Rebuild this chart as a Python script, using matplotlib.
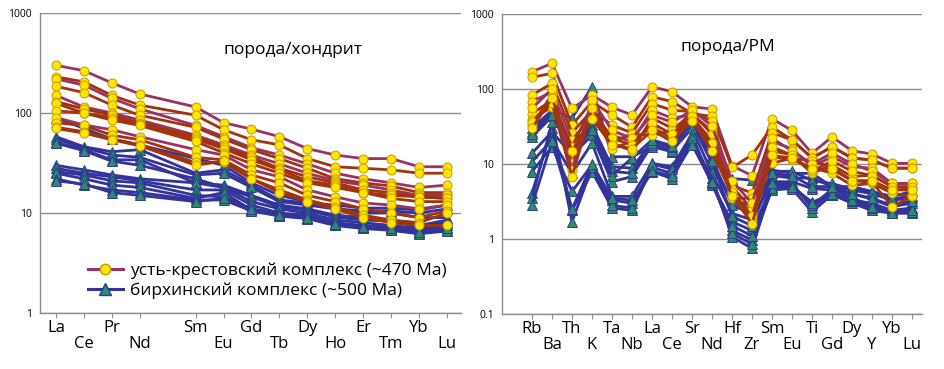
import matplotlib

matplotlib.use("Agg")
import matplotlib.pyplot as plt
import numpy as np

plt.rcParams["font.family"] = ["Open Sans", "DejaVu Sans"]

# --- REE, chondrite normalised (Pm slot left empty) ---
REE = ["La", "Ce", "Pr", "Nd", "Sm", "Eu", "Gd", "Tb", "Dy", "Ho", "Er", "Tm", "Yb", "Lu"]

uk_chondrite = [
    [300, 265, 200, 155, 115, 80, 69, 58, 44, 38, 35, 35, 29, 29],
    [230, 205, 150, 120, 95, 68, 54, 48, 35, 29, 28, 27, 25, 25],
    [220, 190, 140, 110, 75, 58, 45, 38, 31, 25, 22, 20, 18, 19],
    [185, 160, 120, 95, 72, 55, 43, 35, 28, 22, 20, 18.6, 16, 16],
    [150, 115, 100, 85, 60, 48, 38, 31, 25, 21, 19, 17, 15, 15],
    [130, 110, 95, 80, 58, 46, 36, 28, 23, 20, 17, 16, 14.5, 14],
    [125, 100, 90, 78, 55, 44, 34, 27, 21, 19, 16, 15, 14.5, 14],
    [105, 100, 85, 75, 52, 40, 31, 25, 20, 18, 16, 14, 13, 13],
    [90, 76, 68, 58, 43, 38, 27, 23, 17, 14.5, 12.6, 12, 11, 12],
    [80, 75, 60, 54, 36, 34, 24, 20, 15, 13, 11, 10, 9, 10.5],
    [72, 65, 55, 48, 32, 32, 22, 17, 13.5, 11.5, 9.5, 8.5, 8, 10],
    [70, 63, 54, 47, 30, 33, 22, 16, 13, 11, 9, 8, 7.5, 7.5],
]
uk_chondrite_colors = ["p", "b", "p", "b", "p", "b", "b", "b", "p", "b", "b", "b"]

bk_chondrite = [
    [90, 70, 55, 48, 35, 30, 20, 15, 13, 11, 10, 10, 9, 9],
    [58, 46, 41, 43, 25, 27, 19, 13.5, 12.6, 12, 11.2, 11.2, 10.7, 12],
    [55, 45, 38, 36, 24, 25, 18, 13, 12, 11, 10.5, 10.5, 10, 11],
    [51, 43, 34, 34, 20, 19, 15, 12, 11, 9.5, 9, 8.5, 7.5, 8.5],
    [50, 42, 33, 30, 22, 18, 14.5, 11.5, 10.7, 9.1, 8.5, 8.3, 7.2, 8],
    [30, 27, 24, 22, 20, 18, 13, 11, 10, 8.5, 8, 7.5, 7, 8],
    [28, 25, 23, 21, 17, 17, 12, 10, 9.5, 8, 7.5, 7.2, 6.8, 7.5],
    [26, 24, 21, 20, 15, 14.5, 11, 9.8, 9, 7.8, 7.3, 7, 6.5, 7],
    [25, 22, 19, 18, 14, 16, 10.7, 9.5, 8.9, 7.6, 7.1, 6.8, 6.3, 6.8],
    [22, 19, 17, 16, 13.5, 13.5, 10.5, 9.3, 8.8, 7.5, 7, 6.7, 6.2, 6.6],
    [21, 19.5, 16, 15, 13, 14, 11, 9.5, 9, 7.7, 7.2, 7, 6.5, 7],
]

# --- multi-element, primitive mantle normalised ---
PM = ["Rb", "Ba", "Th", "K", "Ta", "Nb", "La", "Ce", "Sr", "Nd",
      "Hf", "Zr", "Sm", "Eu", "Ti", "Gd", "Dy", "Y", "Yb", "Lu"]

uk_pm = [
    [170, 220, 55, 83, 57, 45, 107, 92, 58, 54, 9.5, 7, 40, 28, 13.9, 23, 15, 13.6, 10.2, 10.2],
    [143, 162, 33, 68, 45, 31, 79, 68, 47, 43, 9, 13.2, 31, 21, 12, 17, 12, 11.3, 8.8, 8.8],
    [83, 119, 26, 52, 33, 26, 64, 52, 50, 37, 5.2, 4.1, 26, 21, 12, 17, 12, 11.3, 8.8, 8.8],
    [68, 92, 21, 43, 24, 20, 52, 41, 45, 28, 4.1, 2.2, 20, 16, 9.2, 12.5, 9.2, 8.8, 5.5, 5.5],
    [47, 71, 17, 60, 19, 15, 41, 30, 40, 21, 4.5, 1.8, 15, 13.2, 7.5, 9.7, 6.8, 7.1, 5, 4.7],
    [39, 58, 12.5, 50, 16, 20, 31, 22, 42, 17, 5, 2.5, 12.5, 11.3, 9, 7.5, 5.2, 5.5, 4.1, 3.7],
    [33, 85, 10.2, 45, 20, 25, 24, 28, 48, 25, 3.5, 3.5, 10.2, 12, 11, 9, 6, 5.7, 2.7, 3.7],
    [55, 100, 8.3, 72, 28, 22, 45, 36, 52, 32, 6, 3, 22, 15, 10, 14, 10, 8, 5.5, 5.5],
    [36, 65, 6.8, 55, 22, 18, 35, 25, 44, 19, 4.2, 2, 17, 13, 8, 11, 8, 7, 5, 5],
    [30, 75, 15, 40, 18, 16, 28, 20, 38, 15, 3.8, 1.6, 13, 12, 8.5, 8.5, 6, 6, 4.5, 4.5],
]
uk_pm_colors = ["p", "b", "b", "p", "b", "b", "b", "p", "b", "b"]

bk_pm = [
    [30, 52, 41, 107, 12.5, 12.5, 17, 14.6, 47, 13.2, 6.4, 6.1, 8.3, 7.5, 7.5, 5, 5, 4.3, 3.7, 4.3],
    [23, 43, 19, 33, 9.2, 8.8, 20, 16, 35, 10.2, 3.3, 2.8, 7, 6.5, 6.5, 5, 4.5, 4, 3.3, 3.5],
    [13.9, 27, 13.2, 24, 5.8, 6.8, 18, 15, 30, 7.5, 2.2, 1.8, 5.8, 5.8, 4.7, 4.5, 4, 3.4, 2.7, 3],
    [10.7, 21, 7.5, 19, 3.7, 3.7, 10.2, 9.2, 25, 5.2, 1.7, 1.3, 5, 5, 3.1, 3.9, 3.3, 3, 2.4, 2.6],
    [7.9, 17, 4.3, 9.7, 3.3, 3, 7.9, 6.4, 19, 5.5, 1.3, 0.97, 4.5, 4.7, 2.3, 3.9, 3, 2.4, 2.2, 2.2],
    [4.1, 30, 2.4, 7.9, 2.6, 2.4, 9, 7.5, 20, 6.5, 1.07, 0.75, 5.2, 5.5, 2.6, 4.2, 3.2, 2.6, 2.3, 2.3],
    [3.5, 36, 1.7, 9, 2.8, 2.6, 10, 8.5, 22, 6, 1.2, 0.85, 4.8, 5.2, 2.8, 4.6, 3.5, 2.8, 2.4, 2.5],
    [2.8, 20, 2.5, 10, 3.5, 3.3, 8, 7, 18, 5.8, 1.5, 1.1, 5.5, 5, 3, 4, 3.3, 2.7, 2.2, 2.4],
    [27, 48, 17, 30, 8, 7.5, 19, 17, 42, 12, 2.8, 2.2, 8, 8, 6, 5.5, 4.6, 4.2, 3.4, 3.8],
    [25, 45, 14, 28, 7, 12, 21, 17.5, 38, 11, 2, 1.5, 7.5, 7, 5, 5, 4, 3.5, 2.8, 3.2],
]

LINE_COLORS = {"p": "#993366", "b": "#A3330B"}
BLUE_LINE = "#33339C"
CIRCLE_FACE = "#FFE500"
CIRCLE_EDGE = "#C89A00"
TRI_FACE = "#2E8B6E"
TRI_EDGE = "#2A3F8A"
GRID = "#8C8C8C"


def draw_panel(ax, x, labels, uk_rows, uk_colors, bk_rows, ylim, title, title_xy):
    for row in bk_rows:
        ax.plot(x, row, color=BLUE_LINE, linewidth=2.0, marker="^", markersize=6.8,
                markerfacecolor=TRI_FACE, markeredgecolor=TRI_EDGE, markeredgewidth=0.7, zorder=3)
    for row, c in zip(uk_rows, uk_colors):
        ax.plot(x, row, color=LINE_COLORS[c], linewidth=2.0, marker="o", markersize=6.5,
                markerfacecolor=CIRCLE_FACE, markeredgecolor=CIRCLE_EDGE, markeredgewidth=0.7, zorder=4)

    ax.set_yscale("log")
    ax.set_ylim(*ylim)
    decades = 10.0 ** np.arange(np.log10(ylim[0]), np.log10(ylim[1]) + 1)
    ax.set_yticks(decades)
    ax.set_yticklabels([f"{d:g}" for d in decades], fontsize=7.5)
    ax.minorticks_off()
    ax.yaxis.grid(True, color=GRID, linewidth=1.0, zorder=0)
    ax.set_axisbelow(True)
    ax.tick_params(axis="y", length=0, pad=6)

    ax.set_xticks(x)
    ax.set_xticklabels(labels, fontsize=12)
    ax.tick_params(axis="x", length=3.5, width=0.8, color=GRID, pad=1.5)
    for i, tick in enumerate(ax.xaxis.get_major_ticks()):
        if i % 2 == 1:
            tick.set_pad(13)
    for s in ["top", "right"]:
        ax.spines[s].set_visible(False)
    for s in ["left", "bottom"]:
        ax.spines[s].set_color(GRID)
        ax.spines[s].set_linewidth(1.0)
    ax.text(title_xy[0], title_xy[1], title, transform=ax.transAxes, fontsize=12.5,
            ha="center", va="center")


fig = plt.figure(figsize=(9.44, 3.69), dpi=100)
ax1 = fig.add_axes([40 / 944, 56 / 369, 421 / 944, 300 / 369])
ax2 = fig.add_axes([502 / 944, 55 / 369, 420 / 944, 300 / 369])

x_ree = np.array([i if i < 4 else i + 1 for i in range(len(REE))])
draw_panel(ax1, x_ree, REE, uk_chondrite, uk_chondrite_colors, bk_chondrite,
           (1, 1000), "порода/хондрит", (0.60, 0.877))
ax1.set_xlim(-0.57, 14.5)

x_pm = np.arange(len(PM))
draw_panel(ax2, x_pm, PM, uk_pm, uk_pm_colors, bk_pm,
           (0.1, 1000), "порода/PM", (0.538, 0.89))
ax2.set_xlim(-1.5, 19.5)

handles = [
    plt.Line2D([], [], color="#993366", linewidth=2.2, marker="o", markersize=7.5,
               markerfacecolor=CIRCLE_FACE, markeredgecolor=CIRCLE_EDGE),
    plt.Line2D([], [], color=BLUE_LINE, linewidth=2.2, marker="^", markersize=8,
               markerfacecolor=TRI_FACE, markeredgecolor=TRI_EDGE),
]
ax1.legend(handles, ["усть-крестовский комплекс (~470 Ma)", "бирхинский комплекс (~500 Ma)"],
           loc="lower left", bbox_to_anchor=(0.085, 0.005), frameon=False, fontsize=12.5,
           handlelength=2.0, handletextpad=0.4, labelspacing=0.2, borderpad=0.2)

fig.savefig("out.png", dpi=100)
